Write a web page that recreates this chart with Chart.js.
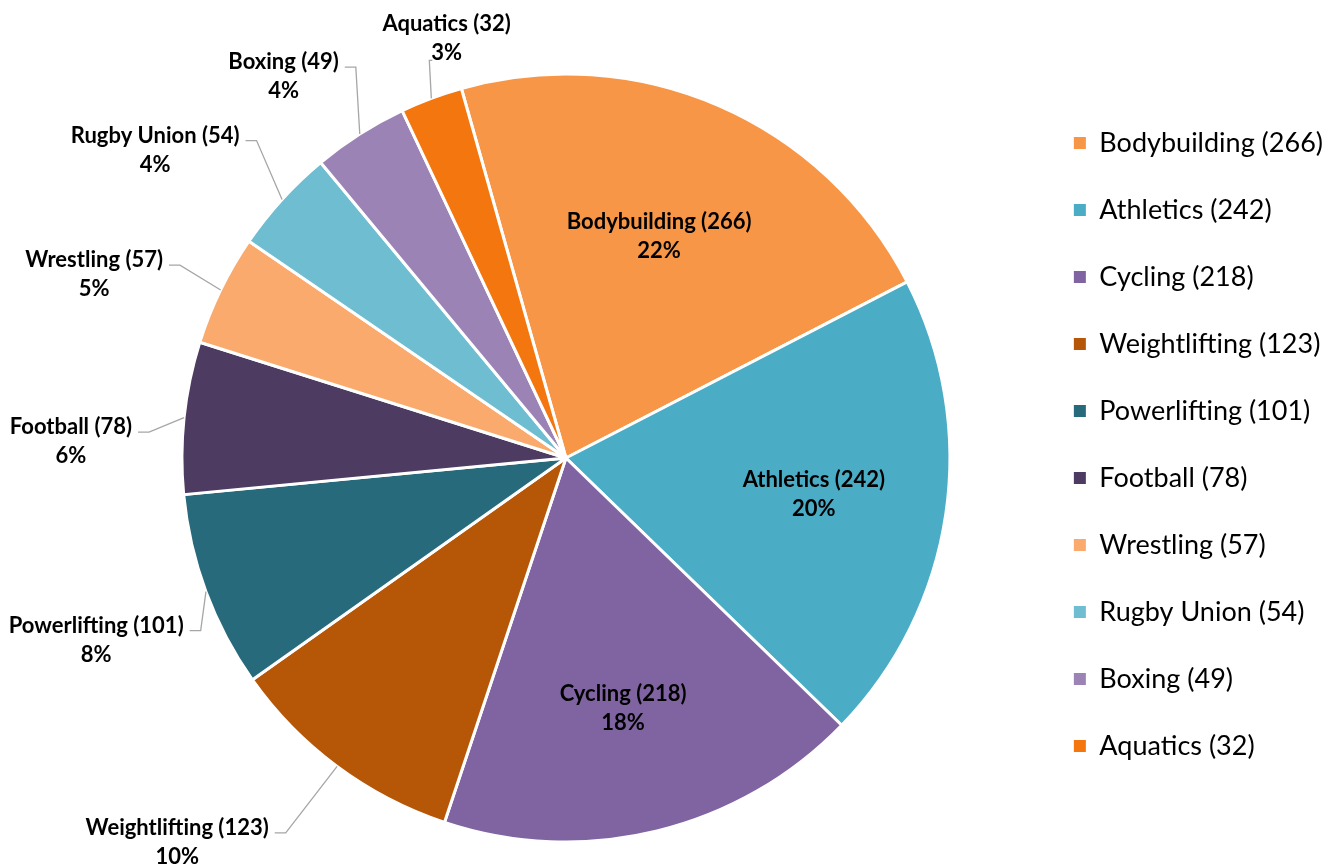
<!DOCTYPE html>
<html>
<head>
<meta charset="utf-8">
<script src="https://cdn.jsdelivr.net/npm/chart.js@4"></script>
<style>
  body { margin: 0; background: #fff; }
  #wrap { width: 1333px; height: 865px; }
</style>
</head>
<body>
<div id="wrap"><canvas id="myChart" width="1333" height="865"></canvas></div>
<script>
var sports = ['Bodybuilding', 'Athletics', 'Cycling', 'Weightlifting', 'Powerlifting',
              'Football', 'Wrestling', 'Rugby Union', 'Boxing', 'Aquatics'];
var athletes = [266, 242, 218, 123, 101, 78, 57, 54, 49, 32];
var sliceColors = ['#F79646', '#4BACC6', '#8064A2', '#B65708', '#276A7C',
                   '#4D3B62', '#F9AA6C', '#6FBDD1', '#9B83B5', '#F3760F'];

// label placement: [angle shift from slice middle (deg), distance in radii]
// distance < 1 means the label sits inside the slice, no leader line
var labelSpots = [[-0.8, 0.63], [-0.4, 0.652], [0.8, 0.665], [8.9, 1.42], [-0.6, 1.31],
                  [-3.9, 1.29], [-4.5, 1.32], [-5.3, 1.34], [-3.9, 1.24], [4.7, 1.14]];

var LABEL_FONT = 'bold 22px Lato';
var LINE_GAP = 29;

var sliceLabels = {
    id: 'sliceLabels',
    afterDatasetsDraw: function (chart) {
        var ctx = chart.ctx;
        var meta = chart.getDatasetMeta(0);
        var values = chart.data.datasets[0].data;
        var total = values.reduce(function (a, b) { return a + b; }, 0);
        ctx.save();
        ctx.font = LABEL_FONT;
        ctx.fillStyle = '#000';
        ctx.textAlign = 'center';
        ctx.textBaseline = 'middle';
        meta.data.forEach(function (arc, i) {
            var p = arc.getProps(['x', 'y', 'startAngle', 'endAngle', 'outerRadius'], true);
            var mid = (p.startAngle + p.endAngle) / 2;
            var R = p.outerRadius;
            var lines = [chart.data.labels[i] + ' (' + values[i] + ')',
                         Math.round(values[i] / total * 100) + '%'];
            var spot = labelSpots[i];
            var a = mid + spot[0] * Math.PI / 180;
            var cx = p.x + Math.cos(a) * R * spot[1];
            var cy = p.y + Math.sin(a) * R * spot[1];
            if (spot[1] > 1) {
                var w = Math.max(ctx.measureText(lines[0]).width, ctx.measureText(lines[1]).width);
                var right = cx + w / 2;
                var sx = p.x + Math.cos(mid) * R;
                var sy = p.y + Math.sin(mid) * R;
                ctx.beginPath();
                ctx.strokeStyle = '#a6a6a6';
                ctx.lineWidth = 1.3;
                ctx.moveTo(sx, sy);
                if (sx > right) {
                    var ly = cy - LINE_GAP / 2 + 7;
                    var bx = Math.min(right + 17, sx - 2);
                    ctx.lineTo(bx, ly);
                    ctx.lineTo(right + 6, ly);
                } else {
                    var by = cy + LINE_GAP / 2 + 9;
                    ctx.lineTo(sx - 2, by);
                    ctx.lineTo(sx + 1, by);
                }
                ctx.stroke();
            }
            ctx.fillText(lines[0], cx, cy - LINE_GAP / 2 + 2);
            ctx.fillText(lines[1], cx, cy + LINE_GAP / 2 + 2);
        });
        ctx.restore();
    }
};

var ctx = document.getElementById('myChart').getContext('2d');
var myChart = new Chart(ctx, {
    type: 'pie',
    data: {
        labels: sports,
        datasets: [{
            data: athletes,
            backgroundColor: sliceColors,
            borderColor: '#ffffff',
            borderWidth: 3
        }]
    },
    options: {
        responsive: false,
        animation: false,
        rotation: -15.8,
        radius: 384,
        layout: {
            padding: { top: 89.5, bottom: 38.5, left: 98, right: 0 }
        },
        plugins: {
            tooltip: { enabled: false },
            legend: {
                position: 'right',
                align: 'start',
                labels: {
                    font: { family: 'Lato', size: 27 },
                    color: '#000',
                    boxWidth: 12,
                    boxHeight: 12,
                    padding: 40,
                    generateLabels: function (chart) {
                        var items = Chart.overrides.pie.plugins.legend.labels.generateLabels(chart);
                        items.forEach(function (item, i) {
                            item.text = sports[i] + ' (' + athletes[i] + ')';
                            item.lineWidth = 0;
                        });
                        return items;
                    }
                }
            }
        }
    },
    plugins: [sliceLabels]
});
</script>
</body>
</html>
